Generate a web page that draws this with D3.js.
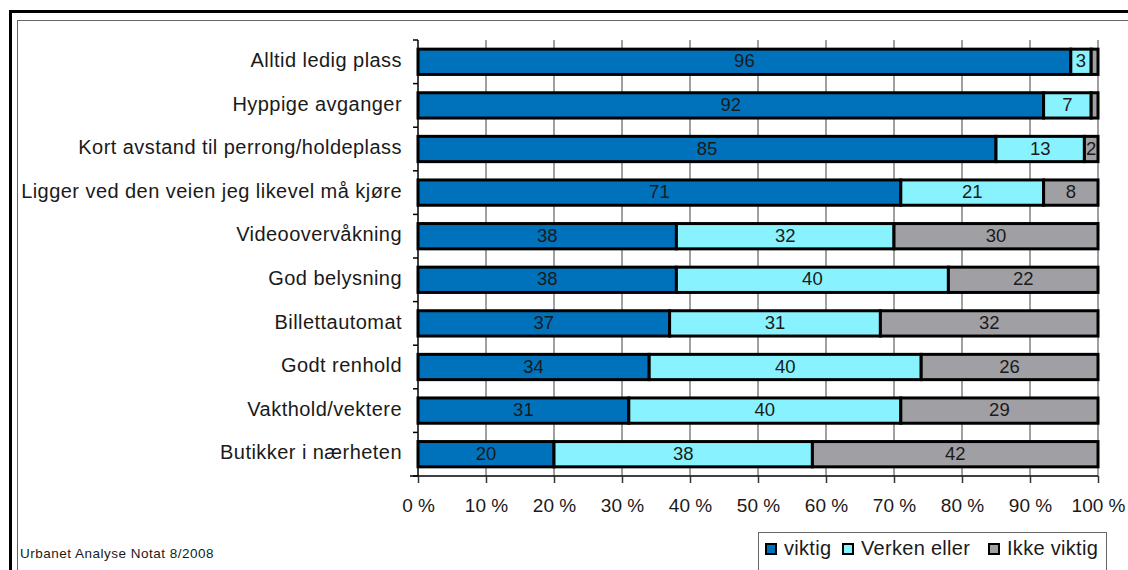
<!DOCTYPE html>
<html><head><meta charset="utf-8">
<script src="https://cdn.jsdelivr.net/npm/d3@7"></script>
<style>body{margin:0;background:#fff}svg{display:block;font-family:"Liberation Sans",Arial,sans-serif}</style>
</head><body>
<svg id="c" width="1128" height="570"></svg>
<script>
const categories = ["Alltid ledig plass","Hyppige avganger","Kort avstand til perrong/holdeplass","Ligger ved den veien jeg likevel må kjøre","Videoovervåkning","God belysning","Billettautomat","Godt renhold","Vakthold/vektere","Butikker i nærheten"];
const viktig = [96,92,85,71,38,38,37,34,31,20];
const verken = [3,7,13,21,32,40,31,40,40,38];
const ikke = [1,1,2,8,30,22,32,26,29,42];
const seriesNames = ["viktig","Verken eller","Ikke viktig"];
const colors = ["#0072BC","#88F2FF","#A0A0A4"];
const tickValues = [0,10,20,30,40,50,60,70,80,90,100];

const svg = d3.select("#c");
// frames
svg.append("rect").attr("x",10.5).attr("y",11.5).attr("width",1140).attr("height",600).attr("fill","none").attr("stroke","#000").attr("stroke-width",3);
svg.append("rect").attr("x",17.5).attr("y",20.5).attr("width",1130).attr("height",600).attr("fill","none").attr("stroke","#666").attr("stroke-width",1);

const x = d3.scaleLinear().domain([0,100]).range([418,1098]);
const y = d3.scaleBand().domain(categories).range([40,476]).paddingInner(0.42).paddingOuter(0.21);
const yb = d3.scaleBand().domain(categories).range([40,476]);

// gridlines
svg.append("g").selectAll("line").data(tickValues.slice(1)).join("line")
  .attr("x1",d=>x(d)).attr("x2",d=>x(d)).attr("y1",40).attr("y2",476)
  .attr("stroke","#808080").attr("stroke-width",1.5);

const data = categories.map((c,i)=>({c, v:[viktig[i],verken[i],ikke[i]]}));
const stack = data.map(d=>{let s=0;return d.v.map((v,k)=>{const o={c:d.c,k,v,x0:s,x1:s+v};s+=v;return o;});});
const segs = stack.flat();
svg.append("g").selectAll("rect").data(segs).join("rect")
  .attr("x",d=>x(d.x0)).attr("width",d=>x(d.x1)-x(d.x0))
  .attr("y",d=>y(d.c)).attr("height",y.bandwidth())
  .attr("fill",d=>colors[d.k]).attr("stroke","#000").attr("stroke-width",3);
svg.append("g").selectAll("text").data(segs.filter(d=>d.v>=2)).join("text")
  .attr("x",d=>(x(d.x0)+x(d.x1))/2).attr("y",d=>y(d.c)+y.bandwidth()/2-1)
  .attr("dy","0.36em").attr("text-anchor","middle").attr("font-size",18.5).attr("fill","#1a1a1a")
  .text(d=>d.v);

// x axis
const xa = svg.append("g").attr("transform","translate(0,476)")
  .call(d3.axisBottom(x).tickValues(tickValues).tickSize(7).tickPadding(16).tickFormat(d=>d+" %"));
xa.select(".domain").attr("stroke","#000").attr("stroke-width",1.5).attr("d","M410,0H1098");
xa.selectAll(".tick line").attr("stroke","#333").attr("stroke-width",1.5);
xa.selectAll("text").attr("font-size",19).attr("fill","#1a1a1a").attr("font-family","Liberation Sans, Arial, sans-serif");

// y axis
const ya = svg.append("g").attr("transform","translate(418,0)");
ya.append("line").attr("x1",0).attr("x2",0).attr("y1",40).attr("y2",476).attr("stroke","#000").attr("stroke-width",1.5);
ya.selectAll("line.t").data(d3.range(categories.length+1)).join("line").attr("class","t")
  .attr("x1",-5).attr("x2",0).attr("y1",i=>40+i*yb.step()).attr("y2",i=>40+i*yb.step())
  .attr("stroke","#000").attr("stroke-width",1.5);
ya.selectAll("text").data(categories).join("text")
  .attr("x",-16).attr("y",d=>yb(d)+yb.bandwidth()/2-2).attr("dy","0.36em")
  .attr("text-anchor","end").attr("font-size",20).attr("letter-spacing",0.45).attr("fill","#1a1a1a").text(d=>d);

// footnote
svg.append("text").attr("x",20).attr("y",558).attr("font-size",13.5).attr("letter-spacing",0.5).attr("fill","#1a1a1a").text("Urbanet Analyse Notat 8/2008");

// legend
const lg = svg.append("g");
lg.append("rect").attr("x",758.5).attr("y",532.5).attr("width",348).attr("height",60).attr("fill","#fff").attr("stroke","#666").attr("stroke-width",1);
const lx = [766,843,989];
seriesNames.forEach((n,i)=>{
  lg.append("rect").attr("x",lx[i]).attr("y",544).attr("width",10).attr("height",10).attr("fill",colors[i]).attr("stroke","#000").attr("stroke-width",2);
  lg.append("text").attr("x",lx[i]+18).attr("y",548).attr("dy","0.36em").attr("font-size",20).attr("letter-spacing",0.3).attr("fill","#1a1a1a").text(n);
});
</script>
</body></html>
